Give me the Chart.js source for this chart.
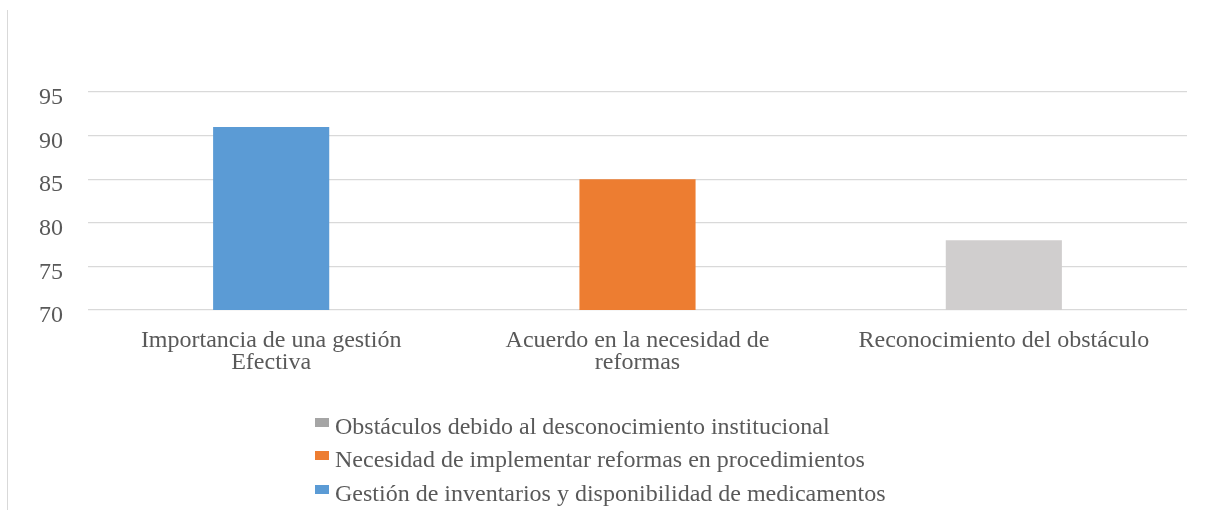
<!DOCTYPE html>
<html><head><meta charset="utf-8">
<script src="https://cdn.jsdelivr.net/npm/chart.js@4"></script>
<style>
html,body{margin:0;padding:0;background:#fff;}
#wrap{position:relative;width:1208px;height:510px;overflow:hidden;background:#fff;}
#c{position:absolute;left:0;top:0;}
#frame{position:absolute;left:7px;top:10px;width:1px;height:500px;background:#d9d9d9;}
#legend{position:absolute;left:315px;top:413px;font-family:"Liberation Serif",serif;font-size:24px;color:#595959;}
.item{display:flex;align-items:flex-start;height:33.4px;white-space:nowrap;}
.box{width:14px;height:9px;margin-top:5px;margin-right:6px;flex:none;}
.txt{line-height:26px;}
</style></head>
<body>
<div id="wrap">
<div id="frame"></div>
<canvas id="c" width="1208" height="510"></canvas>
<div id="legend"></div>
</div>
<script>
const categories = [["Importancia de una gestión","Efectiva"],["Acuerdo en la necesidad de","reformas"],"Reconocimiento del obstáculo"];
const seriesNames = ["Gestión de inventarios y disponibilidad de medicamentos","Necesidad de implementar reformas en procedimientos","Obstáculos debido al desconocimiento institucional"];
const gestionValues = [91, null, null];
const reformasValues = [null, 85, null];
const obstaculosValues = [null, null, 78];
const yMin = 70, yMax = 95, yStep = 5;
const barColors = ["#5B9BD5", "#ED7D31", "#D0CECE"];
const legendColors = ["#5B9BD5", "#ED7D31", "#A5A5A5"];

const seriesValues = [gestionValues, reformasValues, obstaculosValues];
const datasets = seriesNames.map((n, i) => ({
  label: n,
  data: seriesValues[i],
  backgroundColor: barColors[i],
  legendColor: legendColors[i],
  barPercentage: 0.317,
  categoryPercentage: 1,
  grouped: false
}));

const fontFam = '"Liberation Serif", "Times New Roman", serif';
const chart = new Chart(document.getElementById('c'), {
  type: 'bar',
  data: { labels: categories, datasets },
  options: {
    responsive: false,
    animation: false,
    devicePixelRatio: 1,
    layout: { padding: { left: 10, right: 21, top: 92, bottom: 0 } },
    plugins: { legend: { display: false }, tooltip: { enabled: false } },
    scales: {
      x: {
        grid: { display: false, drawTicks: false },
        border: { display: false },
        ticks: { font: { family: fontFam, size: 24, lineHeight: 0.92 }, color: '#595959', padding: 20, maxRotation: 0, autoSkip: false },
        afterFit: s => { s.height = 200; }
      },
      y: {
        min: yMin, max: yMax,
        grid: { color: '#d9d9d9', lineWidth: 1.3, drawTicks: false },
        border: { display: false },
        ticks: { stepSize: yStep, font: { family: fontFam, size: 24 }, color: '#595959', padding: 25, labelOffset: 6 },
        afterFit: s => { s.width = 78; }
      }
    }
  }
});

const leg = document.getElementById('legend');
chart.data.datasets.slice().reverse().forEach(ds => {
  const it = document.createElement('div'); it.className = 'item';
  const b = document.createElement('div'); b.className = 'box'; b.style.background = ds.legendColor;
  const t = document.createElement('div'); t.className = 'txt'; t.textContent = ds.label;
  it.appendChild(b); it.appendChild(t); leg.appendChild(it);
});
</script>
</body></html>
